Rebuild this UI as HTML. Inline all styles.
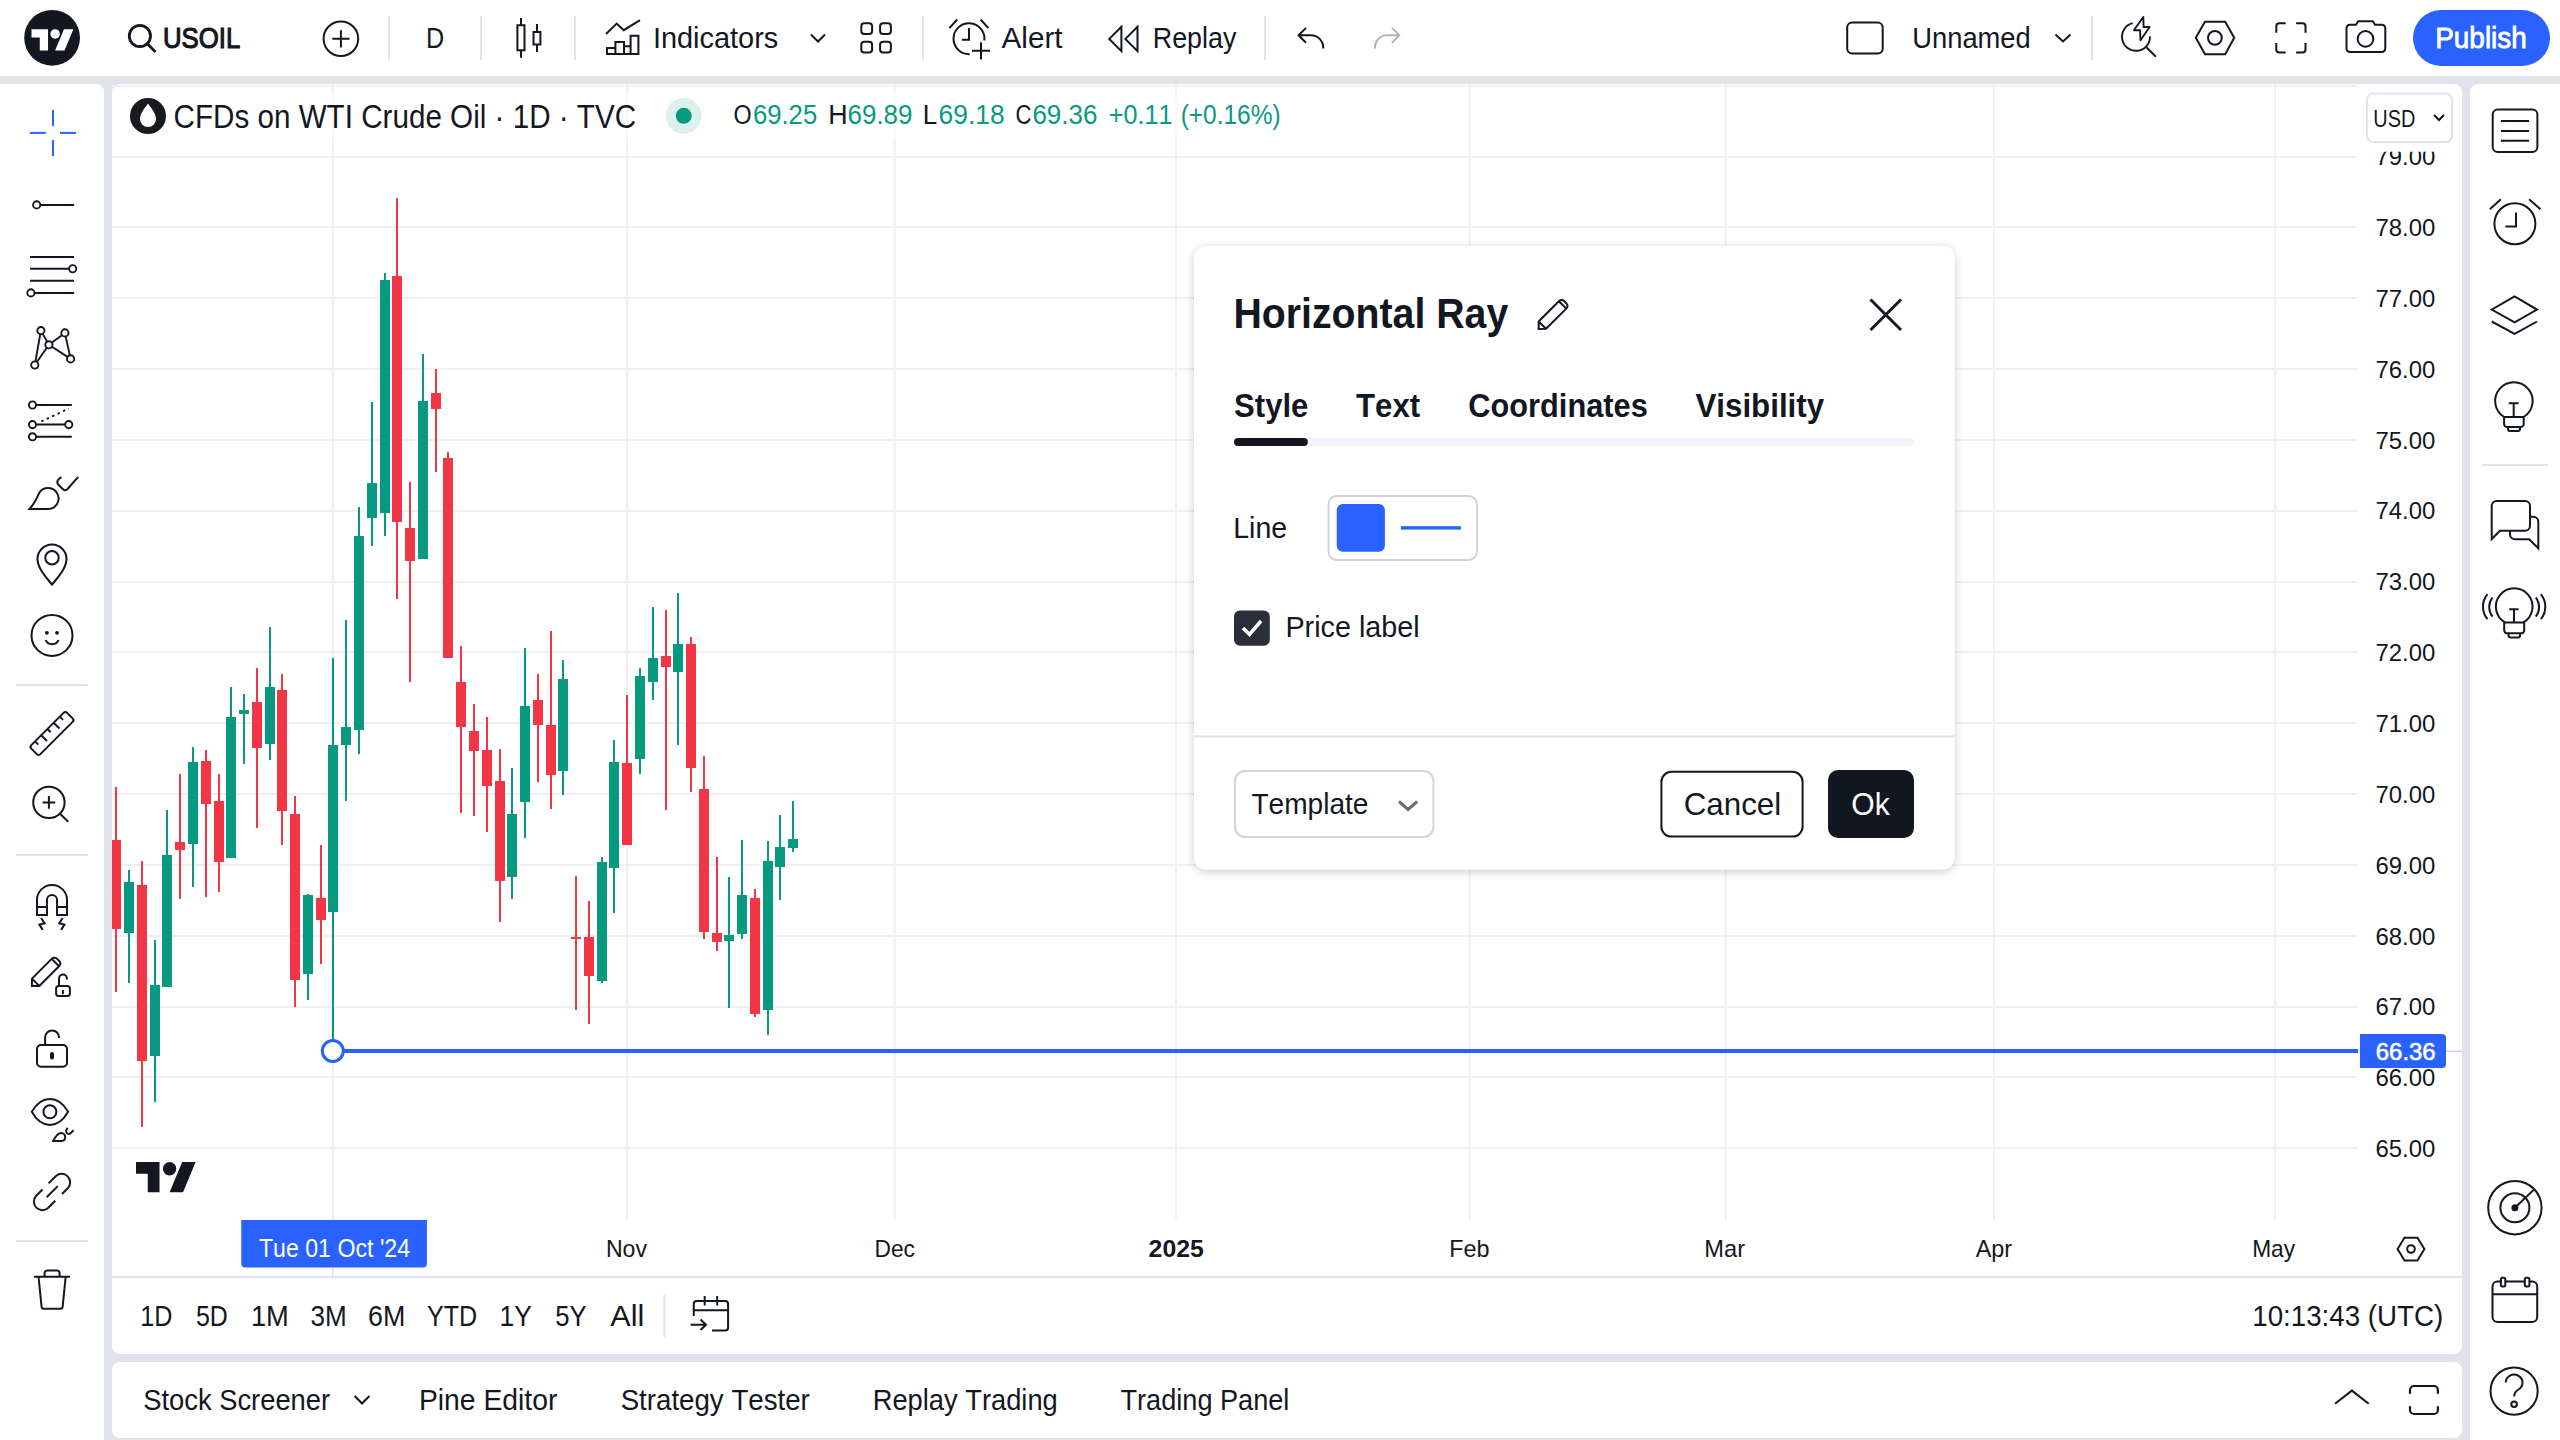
<!DOCTYPE html>
<html><head><meta charset="utf-8"><title>USOIL chart</title>
<style>
html,body{margin:0;padding:0;width:2560px;height:1440px;overflow:hidden;background:#E0E3EB;}
svg{display:block;font-family:"Liberation Sans",sans-serif;font-kerning:none;}
</style></head><body>
<svg width="2560" height="1440" viewBox="0 0 2560 1440">
<defs>
<clipPath id="chartclip"><rect x="112" y="84" width="2246" height="1136"/></clipPath>
<filter id="dshadow" x="-10%" y="-10%" width="120%" height="120%"><feDropShadow dx="0" dy="2" stdDeviation="5" flood-color="#000" flood-opacity="0.2"/></filter>
</defs>
<rect x="0" y="0" width="2560" height="1440" fill="#E0E3EB"/>
<rect x="0" y="0" width="2560" height="76" fill="#fff"/>
<path d="M0 84 H96 A8 8 0 0 1 104 92 V1440 H0 Z" fill="#fff"/>
<path d="M2478 84 H2560 V1440 H2470 V92 A8 8 0 0 1 2478 84 Z" fill="#fff"/>
<rect x="112.00" y="84.00" width="2350.00" height="1270.00" rx="8" fill="#fff"/>
<rect x="112.00" y="1362.00" width="2350.00" height="76.00" rx="8" fill="#fff"/>
<g clip-path="url(#chartclip)">
<rect x="332.00" y="84.00" width="2.00" height="1136.00" fill="#EFF1F1"/>
<rect x="626.00" y="84.00" width="2.00" height="1136.00" fill="#EFF1F1"/>
<rect x="893.70" y="84.00" width="2.00" height="1136.00" fill="#EFF1F1"/>
<rect x="1175.00" y="84.00" width="2.00" height="1136.00" fill="#EFF1F1"/>
<rect x="1468.80" y="84.00" width="2.00" height="1136.00" fill="#EFF1F1"/>
<rect x="1724.80" y="84.00" width="2.00" height="1136.00" fill="#EFF1F1"/>
<rect x="1993.00" y="84.00" width="2.00" height="1136.00" fill="#EFF1F1"/>
<rect x="2274.20" y="84.00" width="2.00" height="1136.00" fill="#EFF1F1"/>
<rect x="112.00" y="1147.00" width="2246.00" height="2.00" fill="#EFF1F1"/>
<rect x="112.00" y="1076.00" width="2246.00" height="2.00" fill="#EFF1F1"/>
<rect x="112.00" y="1006.00" width="2246.00" height="2.00" fill="#EFF1F1"/>
<rect x="112.00" y="935.00" width="2246.00" height="2.00" fill="#EFF1F1"/>
<rect x="112.00" y="864.00" width="2246.00" height="2.00" fill="#EFF1F1"/>
<rect x="112.00" y="793.00" width="2246.00" height="2.00" fill="#EFF1F1"/>
<rect x="112.00" y="722.00" width="2246.00" height="2.00" fill="#EFF1F1"/>
<rect x="112.00" y="651.00" width="2246.00" height="2.00" fill="#EFF1F1"/>
<rect x="112.00" y="581.00" width="2246.00" height="2.00" fill="#EFF1F1"/>
<rect x="112.00" y="510.00" width="2246.00" height="2.00" fill="#EFF1F1"/>
<rect x="112.00" y="439.00" width="2246.00" height="2.00" fill="#EFF1F1"/>
<rect x="112.00" y="368.00" width="2246.00" height="2.00" fill="#EFF1F1"/>
<rect x="112.00" y="297.00" width="2246.00" height="2.00" fill="#EFF1F1"/>
<rect x="112.00" y="226.00" width="2246.00" height="2.00" fill="#EFF1F1"/>
<rect x="112.00" y="156.00" width="2246.00" height="2.00" fill="#EFF1F1"/>
<rect x="112.00" y="85.00" width="2246.00" height="2.00" fill="#EFF1F1"/>
<rect x="115.00" y="787.00" width="2.00" height="205.00" fill="#F23645"/>
<rect x="111.00" y="840.00" width="10.00" height="89.00" fill="#F23645"/>
<rect x="128.00" y="870.00" width="2.00" height="113.00" fill="#089981"/>
<rect x="124.00" y="882.00" width="10.00" height="51.00" fill="#089981"/>
<rect x="141.00" y="861.00" width="2.00" height="266.00" fill="#F23645"/>
<rect x="137.00" y="885.00" width="10.00" height="176.00" fill="#F23645"/>
<rect x="154.00" y="940.00" width="2.00" height="162.00" fill="#089981"/>
<rect x="150.00" y="985.00" width="10.00" height="71.00" fill="#089981"/>
<rect x="166.00" y="810.00" width="2.00" height="177.00" fill="#089981"/>
<rect x="162.00" y="855.00" width="10.00" height="132.00" fill="#089981"/>
<rect x="179.00" y="774.00" width="2.00" height="125.00" fill="#F23645"/>
<rect x="175.00" y="842.00" width="10.00" height="8.00" fill="#F23645"/>
<rect x="192.00" y="747.00" width="2.00" height="140.00" fill="#089981"/>
<rect x="188.00" y="762.00" width="10.00" height="82.00" fill="#089981"/>
<rect x="205.00" y="750.00" width="2.00" height="147.00" fill="#F23645"/>
<rect x="201.00" y="761.00" width="10.00" height="43.00" fill="#F23645"/>
<rect x="218.00" y="774.00" width="2.00" height="118.00" fill="#F23645"/>
<rect x="214.00" y="801.00" width="10.00" height="61.00" fill="#F23645"/>
<rect x="230.00" y="687.00" width="2.00" height="171.00" fill="#089981"/>
<rect x="226.00" y="717.00" width="10.00" height="141.00" fill="#089981"/>
<rect x="243.00" y="694.00" width="2.00" height="70.00" fill="#089981"/>
<rect x="239.00" y="710.00" width="10.00" height="4.00" fill="#089981"/>
<rect x="256.00" y="668.00" width="2.00" height="160.00" fill="#F23645"/>
<rect x="252.00" y="702.00" width="10.00" height="46.00" fill="#F23645"/>
<rect x="269.00" y="627.00" width="2.00" height="133.00" fill="#089981"/>
<rect x="265.00" y="687.00" width="10.00" height="57.00" fill="#089981"/>
<rect x="281.00" y="674.00" width="2.00" height="171.00" fill="#F23645"/>
<rect x="277.00" y="690.00" width="10.00" height="121.00" fill="#F23645"/>
<rect x="294.00" y="796.00" width="2.00" height="211.00" fill="#F23645"/>
<rect x="290.00" y="814.00" width="10.00" height="166.00" fill="#F23645"/>
<rect x="307.00" y="894.00" width="2.00" height="106.00" fill="#089981"/>
<rect x="303.00" y="895.00" width="10.00" height="79.00" fill="#089981"/>
<rect x="320.00" y="845.00" width="2.00" height="119.00" fill="#F23645"/>
<rect x="316.00" y="898.00" width="10.00" height="22.00" fill="#F23645"/>
<rect x="332.00" y="658.00" width="2.00" height="393.00" fill="#089981"/>
<rect x="328.00" y="745.00" width="10.00" height="167.00" fill="#089981"/>
<rect x="345.00" y="620.00" width="2.00" height="181.00" fill="#089981"/>
<rect x="341.00" y="727.00" width="10.00" height="18.00" fill="#089981"/>
<rect x="358.00" y="507.00" width="2.00" height="247.00" fill="#089981"/>
<rect x="354.00" y="536.00" width="10.00" height="194.00" fill="#089981"/>
<rect x="371.00" y="402.00" width="2.00" height="144.00" fill="#089981"/>
<rect x="367.00" y="483.00" width="10.00" height="35.00" fill="#089981"/>
<rect x="384.00" y="273.00" width="2.00" height="263.00" fill="#089981"/>
<rect x="380.00" y="280.00" width="10.00" height="233.00" fill="#089981"/>
<rect x="396.00" y="198.00" width="2.00" height="401.00" fill="#F23645"/>
<rect x="392.00" y="276.00" width="10.00" height="246.00" fill="#F23645"/>
<rect x="409.00" y="482.00" width="2.00" height="200.00" fill="#F23645"/>
<rect x="405.00" y="528.00" width="10.00" height="33.00" fill="#F23645"/>
<rect x="422.00" y="354.00" width="2.00" height="205.00" fill="#089981"/>
<rect x="418.00" y="401.00" width="10.00" height="158.00" fill="#089981"/>
<rect x="435.00" y="369.00" width="2.00" height="103.00" fill="#F23645"/>
<rect x="431.00" y="393.00" width="10.00" height="16.00" fill="#F23645"/>
<rect x="447.00" y="452.00" width="2.00" height="206.00" fill="#F23645"/>
<rect x="443.00" y="458.00" width="10.00" height="200.00" fill="#F23645"/>
<rect x="460.00" y="646.00" width="2.00" height="167.00" fill="#F23645"/>
<rect x="456.00" y="682.00" width="10.00" height="45.00" fill="#F23645"/>
<rect x="473.00" y="704.00" width="2.00" height="112.00" fill="#F23645"/>
<rect x="469.00" y="731.00" width="10.00" height="20.00" fill="#F23645"/>
<rect x="486.00" y="717.00" width="2.00" height="115.00" fill="#F23645"/>
<rect x="482.00" y="750.00" width="10.00" height="36.00" fill="#F23645"/>
<rect x="499.00" y="749.00" width="2.00" height="173.00" fill="#F23645"/>
<rect x="495.00" y="781.00" width="10.00" height="100.00" fill="#F23645"/>
<rect x="511.00" y="768.00" width="2.00" height="131.00" fill="#089981"/>
<rect x="507.00" y="814.00" width="10.00" height="63.00" fill="#089981"/>
<rect x="524.00" y="648.00" width="2.00" height="190.00" fill="#089981"/>
<rect x="520.00" y="706.00" width="10.00" height="96.00" fill="#089981"/>
<rect x="537.00" y="674.00" width="2.00" height="108.00" fill="#F23645"/>
<rect x="533.00" y="700.00" width="10.00" height="25.00" fill="#F23645"/>
<rect x="550.00" y="631.00" width="2.00" height="178.00" fill="#F23645"/>
<rect x="546.00" y="725.00" width="10.00" height="50.00" fill="#F23645"/>
<rect x="562.00" y="660.00" width="2.00" height="135.00" fill="#089981"/>
<rect x="558.00" y="679.00" width="10.00" height="92.00" fill="#089981"/>
<rect x="575.00" y="876.00" width="2.00" height="134.00" fill="#F23645"/>
<rect x="571.00" y="937.00" width="10.00" height="2.00" fill="#F23645"/>
<rect x="588.00" y="901.00" width="2.00" height="123.00" fill="#F23645"/>
<rect x="584.00" y="937.00" width="10.00" height="39.00" fill="#F23645"/>
<rect x="601.00" y="857.00" width="2.00" height="126.00" fill="#089981"/>
<rect x="597.00" y="862.00" width="10.00" height="119.00" fill="#089981"/>
<rect x="613.00" y="740.00" width="2.00" height="173.00" fill="#089981"/>
<rect x="609.00" y="762.00" width="10.00" height="106.00" fill="#089981"/>
<rect x="626.00" y="695.00" width="2.00" height="150.00" fill="#F23645"/>
<rect x="622.00" y="763.00" width="10.00" height="82.00" fill="#F23645"/>
<rect x="639.00" y="668.00" width="2.00" height="106.00" fill="#089981"/>
<rect x="635.00" y="676.00" width="10.00" height="83.00" fill="#089981"/>
<rect x="652.00" y="607.00" width="2.00" height="93.00" fill="#089981"/>
<rect x="648.00" y="658.00" width="10.00" height="24.00" fill="#089981"/>
<rect x="665.00" y="610.00" width="2.00" height="200.00" fill="#F23645"/>
<rect x="661.00" y="656.00" width="10.00" height="11.00" fill="#F23645"/>
<rect x="677.00" y="593.00" width="2.00" height="152.00" fill="#089981"/>
<rect x="673.00" y="644.00" width="10.00" height="28.00" fill="#089981"/>
<rect x="690.00" y="637.00" width="2.00" height="155.00" fill="#F23645"/>
<rect x="686.00" y="644.00" width="10.00" height="124.00" fill="#F23645"/>
<rect x="703.00" y="756.00" width="2.00" height="183.00" fill="#F23645"/>
<rect x="699.00" y="789.00" width="10.00" height="143.00" fill="#F23645"/>
<rect x="716.00" y="857.00" width="2.00" height="94.00" fill="#F23645"/>
<rect x="712.00" y="933.00" width="10.00" height="9.00" fill="#F23645"/>
<rect x="728.00" y="877.00" width="2.00" height="131.00" fill="#089981"/>
<rect x="724.00" y="935.00" width="10.00" height="6.00" fill="#089981"/>
<rect x="741.00" y="840.00" width="2.00" height="99.00" fill="#089981"/>
<rect x="737.00" y="895.00" width="10.00" height="39.00" fill="#089981"/>
<rect x="754.00" y="889.00" width="2.00" height="128.00" fill="#F23645"/>
<rect x="750.00" y="898.00" width="10.00" height="116.00" fill="#F23645"/>
<rect x="767.00" y="841.00" width="2.00" height="194.00" fill="#089981"/>
<rect x="763.00" y="861.00" width="10.00" height="149.00" fill="#089981"/>
<rect x="779.00" y="815.00" width="2.00" height="85.00" fill="#089981"/>
<rect x="775.00" y="847.00" width="10.00" height="20.00" fill="#089981"/>
<rect x="792.00" y="801.00" width="2.00" height="51.00" fill="#089981"/>
<rect x="788.00" y="839.00" width="10.00" height="9.00" fill="#089981"/>
<rect x="332.80" y="1049.00" width="2025.20" height="4.00" fill="#2962FF"/>
<circle cx="332.80" cy="1051.00" r="10.50" fill="#fff" stroke="#2962FF" stroke-width="3"/>
</g>
<rect x="2446.00" y="1050.70" width="16.00" height="1.00" fill="#A8BFFF"/>
<text x="2375.49" y="1157.02" font-size="24" fill="#131722" textLength="59.85" lengthAdjust="spacingAndGlyphs">65.00</text>
<text x="2375.49" y="1086.18" font-size="24" fill="#131722" textLength="59.85" lengthAdjust="spacingAndGlyphs">66.00</text>
<text x="2375.49" y="1015.34" font-size="24" fill="#131722" textLength="59.85" lengthAdjust="spacingAndGlyphs">67.00</text>
<text x="2375.49" y="944.50" font-size="24" fill="#131722" textLength="59.85" lengthAdjust="spacingAndGlyphs">68.00</text>
<text x="2375.49" y="873.66" font-size="24" fill="#131722" textLength="59.85" lengthAdjust="spacingAndGlyphs">69.00</text>
<text x="2375.49" y="802.82" font-size="24" fill="#131722" textLength="59.85" lengthAdjust="spacingAndGlyphs">70.00</text>
<text x="2375.49" y="731.98" font-size="24" fill="#131722" textLength="59.85" lengthAdjust="spacingAndGlyphs">71.00</text>
<text x="2375.49" y="661.14" font-size="24" fill="#131722" textLength="59.85" lengthAdjust="spacingAndGlyphs">72.00</text>
<text x="2375.49" y="590.30" font-size="24" fill="#131722" textLength="59.85" lengthAdjust="spacingAndGlyphs">73.00</text>
<text x="2375.49" y="519.46" font-size="24" fill="#131722" textLength="59.85" lengthAdjust="spacingAndGlyphs">74.00</text>
<text x="2375.49" y="448.62" font-size="24" fill="#131722" textLength="59.85" lengthAdjust="spacingAndGlyphs">75.00</text>
<text x="2375.49" y="377.78" font-size="24" fill="#131722" textLength="59.85" lengthAdjust="spacingAndGlyphs">76.00</text>
<text x="2375.49" y="306.94" font-size="24" fill="#131722" textLength="59.85" lengthAdjust="spacingAndGlyphs">77.00</text>
<text x="2375.49" y="236.10" font-size="24" fill="#131722" textLength="59.85" lengthAdjust="spacingAndGlyphs">78.00</text>
<text x="2375.49" y="165.26" font-size="24" fill="#131722" textLength="59.85" lengthAdjust="spacingAndGlyphs">79.00</text>
<path d="M2360 1034 H2442 A4 4 0 0 1 2446 1038 V1064 A4 4 0 0 1 2442 1068 H2360 Z" fill="#2962FF"/>
<g stroke="#fff" stroke-width="0.6">
<text x="2375.80" y="1059.60" font-size="24" fill="#fff" textLength="59.85" lengthAdjust="spacingAndGlyphs">66.36</text>
</g>
<rect x="2362.00" y="84.00" width="90.00" height="67.70" fill="#fff"/>
<rect x="2367.00" y="93.60" width="85.00" height="48.40" rx="6" fill="#fff" stroke="#E0E3EB" stroke-width="2"/>
<text x="2373.27" y="127.00" font-size="24" fill="#131722" textLength="41.99" lengthAdjust="spacingAndGlyphs">USD</text>
<path d="M2434 115 L2439 120 L2444 115" fill="none" stroke="#131722" stroke-width="2"/>
<rect x="122.00" y="91.80" width="1168.00" height="47.70" fill="rgba(255,255,255,0.5)"/>
<circle cx="148.00" cy="116.00" r="18.00" fill="#181A1E" stroke="none" stroke-width="0"/>
<path d="M148 103.5 C151 108 156 113 156 119 A8 8 0 0 1 140 119 C140 113 145 108 148 103.5 Z" fill="#fff"/>
<text x="173.50" y="127.90" font-size="33" fill="#131722" textLength="462.63" lengthAdjust="spacingAndGlyphs">CFDs on WTI Crude Oil · 1D · TVC</text>
<circle cx="683.75" cy="115.85" r="17.90" fill="rgba(8,153,129,0.14)" stroke="none" stroke-width="0"/>
<circle cx="683.75" cy="115.85" r="8.00" fill="#089981" stroke="none" stroke-width="0"/>
<text x="733.50" y="124.40" font-size="27" fill="#131722" textLength="18.12" lengthAdjust="spacingAndGlyphs">O</text>
<text x="752.90" y="124.40" font-size="27" fill="#089981" textLength="64.28" lengthAdjust="spacingAndGlyphs">69.25</text>
<text x="828.30" y="124.40" font-size="27" fill="#131722" textLength="19.39" lengthAdjust="spacingAndGlyphs">H</text>
<text x="847.48" y="124.40" font-size="27" fill="#089981" textLength="65.05" lengthAdjust="spacingAndGlyphs">69.89</text>
<text x="922.86" y="124.40" font-size="27" fill="#131722" textLength="14.51" lengthAdjust="spacingAndGlyphs">L</text>
<text x="938.56" y="124.40" font-size="27" fill="#089981" textLength="66.09" lengthAdjust="spacingAndGlyphs">69.18</text>
<text x="1015.38" y="124.40" font-size="27" fill="#131722" textLength="15.96" lengthAdjust="spacingAndGlyphs">C</text>
<text x="1032.38" y="124.40" font-size="27" fill="#089981" textLength="65.06" lengthAdjust="spacingAndGlyphs">69.36</text>
<text x="1108.77" y="124.40" font-size="27" fill="#089981" textLength="63.66" lengthAdjust="spacingAndGlyphs">+0.11</text>
<text x="1180.68" y="124.40" font-size="27" fill="#089981" textLength="99.93" lengthAdjust="spacingAndGlyphs">(+0.16%)</text>
<rect x="112.00" y="1276.00" width="2350.00" height="2.00" fill="#E0E3EB"/>
<text x="605.91" y="1257.20" font-size="24" fill="#131722" textLength="41.07" lengthAdjust="spacingAndGlyphs">Nov</text>
<text x="874.53" y="1257.20" font-size="24" fill="#131722" textLength="40.47" lengthAdjust="spacingAndGlyphs">Dec</text>
<text x="1148.64" y="1257.20" font-size="24" font-weight="700" fill="#131722" textLength="55.15" lengthAdjust="spacingAndGlyphs">2025</text>
<text x="1449.28" y="1257.20" font-size="24" fill="#131722" textLength="40.30" lengthAdjust="spacingAndGlyphs">Feb</text>
<text x="1704.36" y="1257.20" font-size="24" fill="#131722" textLength="40.73" lengthAdjust="spacingAndGlyphs">Mar</text>
<text x="1975.65" y="1257.20" font-size="24" fill="#131722" textLength="36.33" lengthAdjust="spacingAndGlyphs">Apr</text>
<text x="2252.14" y="1257.20" font-size="24" fill="#131722" textLength="42.91" lengthAdjust="spacingAndGlyphs">May</text>
<path d="M241.25 1220 H426.9 V1263.5 A4 4 0 0 1 422.9 1267.5 H245.25 A4 4 0 0 1 241.25 1263.5 Z" fill="#2962FF"/>
<rect x="332.30" y="1267.50" width="1.00" height="9.50" fill="#C9CDD6"/>
<text x="258.88" y="1257.20" font-size="26" fill="#fff" textLength="151.20" lengthAdjust="spacingAndGlyphs">Tue 01 Oct &#x27;24</text>
<text x="140.28" y="1325.90" font-size="29.5" fill="#131722" textLength="32.17" lengthAdjust="spacingAndGlyphs">1D</text>
<text x="195.90" y="1325.90" font-size="29.5" fill="#131722" textLength="31.89" lengthAdjust="spacingAndGlyphs">5D</text>
<text x="250.92" y="1325.90" font-size="29.5" fill="#131722" textLength="37.92" lengthAdjust="spacingAndGlyphs">1M</text>
<text x="310.61" y="1325.90" font-size="29.5" fill="#131722" textLength="36.23" lengthAdjust="spacingAndGlyphs">3M</text>
<text x="368.04" y="1325.90" font-size="29.5" fill="#131722" textLength="37.26" lengthAdjust="spacingAndGlyphs">6M</text>
<text x="426.95" y="1325.90" font-size="29.5" fill="#131722" textLength="50.15" lengthAdjust="spacingAndGlyphs">YTD</text>
<text x="499.59" y="1325.90" font-size="29.5" fill="#131722" textLength="32.24" lengthAdjust="spacingAndGlyphs">1Y</text>
<text x="555.22" y="1325.90" font-size="29.5" fill="#131722" textLength="31.34" lengthAdjust="spacingAndGlyphs">5Y</text>
<text x="610.24" y="1325.90" font-size="29.5" fill="#131722" textLength="34.01" lengthAdjust="spacingAndGlyphs">All</text>
<rect x="663.40" y="1294.70" width="2.00" height="42.20" fill="#E0E3EB"/>
<text x="2252.29" y="1326.30" font-size="29" fill="#131722" textLength="190.83" lengthAdjust="spacingAndGlyphs">10:13:43 (UTC)</text>
<text x="143.16" y="1409.80" font-size="29" fill="#131722" textLength="187.00" lengthAdjust="spacingAndGlyphs">Stock Screener</text>
<text x="418.93" y="1409.80" font-size="29" fill="#131722" textLength="138.44" lengthAdjust="spacingAndGlyphs">Pine Editor</text>
<text x="620.64" y="1409.80" font-size="29" fill="#131722" textLength="189.22" lengthAdjust="spacingAndGlyphs">Strategy Tester</text>
<text x="872.76" y="1409.80" font-size="29" fill="#131722" textLength="185.00" lengthAdjust="spacingAndGlyphs">Replay Trading</text>
<text x="1120.49" y="1409.80" font-size="29" fill="#131722" textLength="168.92" lengthAdjust="spacingAndGlyphs">Trading Panel</text>
<text x="163.01" y="47.60" font-size="29" fill="#131722" stroke="#131722" stroke-width="1.1" textLength="77.34" lengthAdjust="spacingAndGlyphs">USOIL</text>
<text x="426.04" y="47.70" font-size="29" fill="#131722" textLength="18.17" lengthAdjust="spacingAndGlyphs">D</text>
<text x="652.93" y="47.70" font-size="29" fill="#131722" textLength="125.31" lengthAdjust="spacingAndGlyphs">Indicators</text>
<text x="1001.54" y="47.70" font-size="29" fill="#131722" textLength="60.98" lengthAdjust="spacingAndGlyphs">Alert</text>
<text x="1152.80" y="47.70" font-size="29" fill="#131722" textLength="83.55" lengthAdjust="spacingAndGlyphs">Replay</text>
<text x="1912.29" y="47.80" font-size="29" fill="#131722" textLength="118.47" lengthAdjust="spacingAndGlyphs">Unnamed</text>
<rect x="2413.00" y="10.00" width="137.00" height="56.00" rx="28" fill="#2962FF"/>
<text x="2435.21" y="48.20" font-size="29" fill="#fff" stroke="#fff" stroke-width="0.8" textLength="91.60" lengthAdjust="spacingAndGlyphs">Publish</text>
<g filter="url(#dshadow)">
<rect x="1194.00" y="246.00" width="760.50" height="623.50" rx="12" fill="#fff"/>
</g>
<text x="1233.47" y="328.30" font-size="42" font-weight="700" fill="#131722" textLength="274.74" lengthAdjust="spacingAndGlyphs">Horizontal Ray</text>
<text x="1234.11" y="417.30" font-size="34" font-weight="700" fill="#131722" textLength="74.15" lengthAdjust="spacingAndGlyphs">Style</text>
<text x="1356.05" y="417.30" font-size="34" font-weight="700" fill="#131722" textLength="64.03" lengthAdjust="spacingAndGlyphs">Text</text>
<text x="1468.34" y="417.30" font-size="34" font-weight="700" fill="#131722" textLength="179.42" lengthAdjust="spacingAndGlyphs">Coordinates</text>
<text x="1695.39" y="417.30" font-size="34" font-weight="700" fill="#131722" textLength="128.78" lengthAdjust="spacingAndGlyphs">Visibility</text>
<rect x="1234.00" y="438.00" width="680.20" height="8.00" rx="4" fill="#F0F3FA"/>
<rect x="1234.00" y="438.00" width="73.80" height="8.00" rx="4" fill="#131722"/>
<text x="1233.26" y="538.30" font-size="29" fill="#131722" textLength="53.91" lengthAdjust="spacingAndGlyphs">Line</text>
<rect x="1328.60" y="495.90" width="148.30" height="64.00" rx="8" fill="#fff" stroke="#D1D4DC" stroke-width="2"/>
<rect x="1336.75" y="504.00" width="48.15" height="47.70" rx="6" fill="#2962FF"/>
<rect x="1400.90" y="526.20" width="60.10" height="3.40" fill="#2962FF"/>
<rect x="1234.00" y="610.40" width="35.80" height="35.30" rx="6" fill="#2A2E39"/>
<path d="M1243 628 L1249.5 634.5 L1261 621" fill="none" stroke="#fff" stroke-width="3.5"/>
<text x="1285.44" y="636.90" font-size="29.5" fill="#131722" textLength="134.28" lengthAdjust="spacingAndGlyphs">Price label</text>
<rect x="1194.00" y="735.40" width="760.50" height="2.00" fill="#E0E3EB"/>
<rect x="1235.00" y="771.00" width="198.40" height="66.00" rx="10" fill="#fff" stroke="#D1D4DC" stroke-width="2"/>
<text x="1251.47" y="813.70" font-size="29" fill="#131722" textLength="116.98" lengthAdjust="spacingAndGlyphs">Template</text>
<path d="M1399 801.5 L1408.1 809.5 L1417.2 801.5" fill="none" stroke="#6A6D78" stroke-width="3"/>
<rect x="1661.40" y="771.80" width="141.20" height="64.80" rx="10" fill="#fff" stroke="#131722" stroke-width="2"/>
<text x="1683.71" y="815.00" font-size="32" fill="#131722" textLength="97.49" lengthAdjust="spacingAndGlyphs">Cancel</text>
<rect x="1828.00" y="770.00" width="86.00" height="68.00" rx="10" fill="#131722"/>
<text x="1851.28" y="815.00" font-size="32" fill="#fff" textLength="38.38" lengthAdjust="spacingAndGlyphs">Ok</text>
<path d="M1870.5 299.5 L1901 330 M1901 299.5 L1870.5 330" fill="none" stroke="#131722" stroke-width="3"/>
<circle cx="52.10" cy="37.80" r="27.90" fill="#131722" stroke="none" stroke-width="0"/>
<g transform="translate(31.5 24.5) scale(1.18)" fill="#fff"><path d="M14 22H7V11H0V4h14v18zM28 22h-8l7.5-18h8L28 22z"/><circle cx="20" cy="8" r="4"/></g>
<circle cx="139.90" cy="35.90" r="10.60" fill="none" stroke="#131722" stroke-width="2.8"/>
<path d="M147.6 44 L155.5 51.9" fill="none" stroke="#131722" stroke-width="2.8"/>
<circle cx="340.90" cy="38.75" r="17.30" fill="none" stroke="#131722" stroke-width="2"/>
<path d="M332.3 38.75 H349.5 M340.9 30.2 V47.5" fill="none" stroke="#131722" stroke-width="2"/>
<rect x="388.00" y="16.00" width="2.00" height="44.00" fill="#E0E3EB"/>
<rect x="480.00" y="16.00" width="2.00" height="44.00" fill="#E0E3EB"/>
<rect x="574.00" y="16.00" width="2.00" height="44.00" fill="#E0E3EB"/>
<rect x="922.00" y="16.00" width="2.00" height="44.00" fill="#E0E3EB"/>
<rect x="1264.00" y="16.00" width="2.00" height="44.00" fill="#E0E3EB"/>
<rect x="2091.00" y="16.00" width="2.00" height="44.00" fill="#E0E3EB"/>
<path d="M517.4 25.2 H524.5 V50.25 H517.4 Z M521 18 V25.2 M521 50.25 V57.8" fill="none" stroke="#131722" stroke-width="2"/>
<path d="M533.5 32 H540.4 V44.6 H533.5 Z M537 23.9 V32 M537 44.6 V51.9" fill="none" stroke="#131722" stroke-width="2"/>
<path d="M606 34 L616.7 23.6 L623.75 30.2 L640 20.2" fill="none" stroke="#131722" stroke-width="2"/>
<path d="M607 54 V47.9 H615.4 V41.9 H624 V46.3 H630.6 V35.7 H638.4 V54 Z M615.4 47.9 V54 M624 46.3 V54 M630.6 46.3 V54" fill="none" stroke="#131722" stroke-width="2"/>
<path d="M811 34.5 L818 41.5 L825 34.5" fill="none" stroke="#131722" stroke-width="2"/>
<rect x="861.30" y="23.30" width="10.80" height="10.80" rx="3" fill="none" stroke="#131722" stroke-width="2"/>
<rect x="880.10" y="23.30" width="10.80" height="10.80" rx="3" fill="none" stroke="#131722" stroke-width="2"/>
<rect x="861.30" y="41.80" width="10.80" height="10.80" rx="3" fill="none" stroke="#131722" stroke-width="2"/>
<rect x="880.10" y="41.80" width="10.80" height="10.80" rx="3" fill="none" stroke="#131722" stroke-width="2"/>
<path d="M969.7 54.2 A15.5 15.5 0 1 1 984.4 40.5" fill="none" stroke="#131722" stroke-width="2"/>
<path d="M949.4 28.1 L957.2 19.5 M980.6 19.5 L988.4 28.1" fill="none" stroke="#131722" stroke-width="2"/>
<path d="M969 28 V39.8 H961.9" fill="none" stroke="#131722" stroke-width="2"/>
<path d="M972 50.8 H990 M981 42.2 V59.4" fill="none" stroke="#131722" stroke-width="2"/>
<path d="M1121.4 26.8 L1109.3 38.9 L1121.4 51.1 Z M1137.5 26.8 L1125.4 38.9 L1137.5 51.1 Z" fill="none" stroke="#131722" stroke-width="2"/>
<path d="M1306 27.9 L1298.6 35.3 L1306 42.7 M1298.6 35.3 H1311 A12.2 12.3 0 0 1 1323.2 47.6 V48.6" fill="none" stroke="#131722" stroke-width="2"/>
<path d="M1391.9 27.9 L1399.3 35.3 L1391.9 42.7 M1399.3 35.3 H1387 A12.2 12.3 0 0 0 1374.9 47.6 V48.6" fill="none" stroke="#B2B5BE" stroke-width="2"/>
<rect x="1847.20" y="22.40" width="35.50" height="31.00" rx="5" fill="none" stroke="#131722" stroke-width="2"/>
<path d="M2055.5 34.5 L2063 41.5 L2070.5 34.5" fill="none" stroke="#131722" stroke-width="2"/>
<path d="M2132.6 23.2 A14 14 0 1 0 2150 36.4" fill="none" stroke="#131722" stroke-width="1.9"/>
<path d="M2146.4 47.3 L2155.9 56.7" fill="none" stroke="#131722" stroke-width="1.9"/>
<path d="M2143.3 17 L2133.9 30.3 H2140 L2140.5 40.3 L2149.6 27 H2143.6 Z" fill="none" stroke="#131722" stroke-width="1.9" stroke-linejoin="round"/>
<path d="M2195.8 37.85 L2205 21.8 H2225.2 L2234.2 37.85 L2225.2 54.2 H2205 Z" fill="none" stroke="#131722" stroke-width="2"/>
<circle cx="2214.90" cy="37.85" r="6.90" fill="none" stroke="#131722" stroke-width="2"/>
<path d="M2276.3 32.7 V26.3 A3 3 0 0 1 2279.3 23.3 H2285.7 M2296.1 23.3 H2302.5 A3 3 0 0 1 2305.5 26.3 V32.7 M2305.5 43 V49.4 A3 3 0 0 1 2302.5 52.4 H2296.1 M2285.7 52.4 H2279.3 A3 3 0 0 1 2276.3 49.4 V43" fill="none" stroke="#131722" stroke-width="2"/>
<path d="M2346.5 28.2 A3.5 3.5 0 0 1 2350 24.7 H2356 L2358.2 21.3 H2372.8 L2375 24.7 H2381.8 A3.5 3.5 0 0 1 2385.3 28.2 V48.6 A3.5 3.5 0 0 1 2381.8 52.1 H2350 A3.5 3.5 0 0 1 2346.5 48.6 Z" fill="none" stroke="#131722" stroke-width="2"/>
<circle cx="2365.50" cy="38.90" r="7.80" fill="none" stroke="#131722" stroke-width="2"/>
<path d="M148.05 104.4 C150.3 108.2 154.6 113.3 154.6 119.5 A6.55 6.55 0 0 1 141.5 119.5 C141.5 113.3 145.8 108.2 148.05 104.4 Z" fill="#fff"/>
<g transform="translate(136 1155.3) scale(1.68)" fill="#131722"><path d="M14 22H7V11H0V4h14v18zM28 22h-8l7.5-18h8L28 22z"/><circle cx="20" cy="8" r="4"/></g>
<rect x="52.00" y="109.90" width="2.00" height="16.00" fill="#2962FF"/>
<rect x="52.00" y="140.10" width="2.00" height="15.90" fill="#2962FF"/>
<rect x="29.90" y="131.90" width="15.90" height="2.00" fill="#2962FF"/>
<rect x="60.00" y="131.90" width="15.90" height="2.00" fill="#2962FF"/>
<circle cx="36.70" cy="204.90" r="3.60" fill="none" stroke="#131722" stroke-width="1.9"/>
<path d="M40.4 204.9 H74.1" fill="none" stroke="#131722" stroke-width="2"/>
<path d="M30.1 257 H74.1 M30.1 268.75 H69 M30.1 280.8 H74.1 M34.6 292.9 H74.1" fill="none" stroke="#131722" stroke-width="2"/>
<circle cx="72.70" cy="268.75" r="3.60" fill="none" stroke="#131722" stroke-width="1.9"/>
<circle cx="30.90" cy="292.90" r="3.60" fill="none" stroke="#131722" stroke-width="1.9"/>
<path d="M40.9 330.6 L34.8 365" fill="none" stroke="#131722" stroke-width="1.9"/>
<path d="M40.9 330.6 L48.9 344.8" fill="none" stroke="#131722" stroke-width="1.9"/>
<path d="M48.9 344.8 L34.8 365" fill="none" stroke="#131722" stroke-width="1.9"/>
<path d="M48.9 344.8 L64.9 332.9" fill="none" stroke="#131722" stroke-width="1.9"/>
<path d="M64.9 332.9 L70.6 358.9" fill="none" stroke="#131722" stroke-width="1.9"/>
<path d="M48.9 344.8 L70.6 358.9" fill="none" stroke="#131722" stroke-width="1.9"/>
<circle cx="40.90" cy="330.60" r="3.60" fill="#fff" stroke="#131722" stroke-width="1.9"/>
<circle cx="48.90" cy="344.80" r="3.60" fill="#fff" stroke="#131722" stroke-width="1.9"/>
<circle cx="64.90" cy="332.90" r="3.60" fill="#fff" stroke="#131722" stroke-width="1.9"/>
<circle cx="70.60" cy="358.90" r="3.60" fill="#fff" stroke="#131722" stroke-width="1.9"/>
<circle cx="34.80" cy="365.00" r="3.60" fill="#fff" stroke="#131722" stroke-width="1.9"/>
<path d="M36.3 405 H71.8 M36.3 424.6 H65 M36.3 436.8 H71.8" fill="none" stroke="#131722" stroke-width="2"/>
<path d="M41.25 421.5 L68.75 408.5" fill="none" stroke="#131722" stroke-width="1.9" stroke-dasharray="2.5 3.5"/>
<circle cx="32.50" cy="405.00" r="3.60" fill="#fff" stroke="#131722" stroke-width="1.9"/>
<circle cx="32.50" cy="424.60" r="3.60" fill="#fff" stroke="#131722" stroke-width="1.9"/>
<circle cx="68.75" cy="424.60" r="3.60" fill="#fff" stroke="#131722" stroke-width="1.9"/>
<circle cx="32.50" cy="436.80" r="3.60" fill="#fff" stroke="#131722" stroke-width="1.9"/>
<path d="M29.5 509 H48 A10.5 10.5 0 1 0 39.4 492.5 C37.5 497 35 503 29.5 509 Z" fill="none" stroke="#131722" stroke-width="2"/>
<path d="M61.5 477.3 C58.5 478.5 55.8 481.5 58.2 484.5 L63 489.2 C64.3 490.5 66 490.5 67.3 489.2 L78.2 476.8" fill="none" stroke="#131722" stroke-width="2"/>
<path d="M52 584.7 C46 577 37.5 568 37.5 559 A14.5 14.5 0 0 1 66.5 559 C66.5 568 58 577 52 584.7 Z" fill="none" stroke="#131722" stroke-width="2"/>
<circle cx="52.00" cy="557.80" r="6.70" fill="none" stroke="#131722" stroke-width="2"/>
<circle cx="52.00" cy="635.40" r="20.50" fill="none" stroke="#131722" stroke-width="2"/>
<circle cx="46.90" cy="632.80" r="1.90" fill="#131722" stroke="none" stroke-width="0"/>
<circle cx="57.00" cy="632.80" r="1.90" fill="#131722" stroke="none" stroke-width="0"/>
<path d="M45.8 640 A6.5 5.5 0 0 0 58.4 640" fill="none" stroke="#131722" stroke-width="2"/>
<rect x="16.00" y="684.00" width="72.00" height="2.00" fill="#E0E3EB"/>
<rect x="16.00" y="854.00" width="72.00" height="2.00" fill="#E0E3EB"/>
<rect x="16.00" y="1240.00" width="72.00" height="2.00" fill="#E0E3EB"/>
<g transform="translate(51.95 733.5) rotate(-45)" fill="none" stroke="#131722" stroke-width="2"><rect x="-25.3" y="-6.4" width="50.6" height="12.8" rx="2.5"/><path d="M-17.5 -6.4 V-1.8 M-8.8 -6.4 V1.8 M0 -6.4 V-1.8 M8.8 -6.4 V1.8 M17.5 -6.4 V-1.8"/></g>
<circle cx="48.90" cy="802.40" r="15.70" fill="none" stroke="#131722" stroke-width="2"/>
<path d="M42.5 802.4 H55.3 M48.9 796 V808.8 M60.3 814 L68.3 821.9" fill="none" stroke="#131722" stroke-width="2"/>
<path d="M37 914.9 V900 A15 15 0 0 1 67 900 V914.9 H57.05 V900.1 A5.05 5.05 0 0 0 46.95 900.1 V914.9 Z M37 906.9 H46.95 M57.05 906.9 H67" fill="none" stroke="#131722" stroke-width="2"/>
<path d="M41.1 918 L44.6 923.3 L39.4 924.6 L42.7 929.9 M62.7 918 L59.2 923.3 L64.45 924.6 L61.1 929.9" fill="none" stroke="#131722" stroke-width="2"/>
<g transform="translate(31 986.95) rotate(-45)" fill="none" stroke="#131722" stroke-width="2"><path d="M1.3 0 L6.6 -5.2 H34.8 A3.5 3.5 0 0 1 38.3 -1.7 V1.7 A3.5 3.5 0 0 1 34.8 5.2 H6.6 Z M6.6 -5.2 V5.2 M34.5 -5.2 V5.2"/></g>
<rect x="56.10" y="986.00" width="13.80" height="10.10" rx="2.5" fill="none" stroke="#131722" stroke-width="2"/>
<path d="M59 986 V978.5 A3.95 3.95 0 0 1 66.9 978.5 V979.6" fill="none" stroke="#131722" stroke-width="2"/>
<rect x="61.90" y="990.00" width="2.00" height="4.20" fill="#131722"/>
<rect x="37.00" y="1045.00" width="30.00" height="21.70" rx="4" fill="none" stroke="#131722" stroke-width="2"/>
<path d="M45.1 1045 V1037.5 A7 7 0 0 1 59.1 1037.5 V1038" fill="none" stroke="#131722" stroke-width="2"/>
<rect x="50.00" y="1052.00" width="4.00" height="7.60" rx="2" fill="#131722"/>
<path d="M31.8 1111.8 C36.5 1103.5 42.5 1099 49.9 1099 C57.3 1099 63.4 1103.5 68.1 1111.8 C63.4 1120.3 57.3 1124.9 49.9 1124.9 C42.5 1124.9 36.5 1120.3 31.8 1111.8 Z" fill="none" stroke="#131722" stroke-width="2"/>
<circle cx="49.90" cy="1111.80" r="6.50" fill="none" stroke="#131722" stroke-width="2"/>
<path d="M53.2 1140.9 C55.5 1136.5 57.5 1133 61 1133 C63.5 1133 65.2 1135 65.2 1137 C65.2 1139.5 63.5 1140.9 61.5 1140.9 Z M67.8 1127.9 C66 1129.5 65.5 1131.8 67 1133.2 C68 1134.3 69.5 1134.3 70.5 1133.3 L73.6 1130.2" fill="none" stroke="#131722" stroke-width="2"/>
<path d="M48.6 1183.4 L56 1176 A8.5 8.5 0 0 1 68 1188 L62 1194" fill="none" stroke="#131722" stroke-width="2"/>
<path d="M42.5 1189.5 L36 1196 A8.5 8.5 0 0 0 48 1208 L55.3 1200.7" fill="none" stroke="#131722" stroke-width="2"/>
<path d="M46.6 1197.3 L57.75 1186.1" fill="none" stroke="#131722" stroke-width="2"/>
<path d="M33.9 1276.7 H70 M44.6 1276.7 V1273 A2.5 2.5 0 0 1 47 1270.6 H57.2 A2.5 2.5 0 0 1 59.6 1273 V1276.7 M38.5 1276.7 L41.6 1306.8 A2 2 0 0 0 43.6 1308.8 H60.6 A2 2 0 0 0 62.6 1306.8 L65.7 1276.7" fill="none" stroke="#131722" stroke-width="2"/>
<rect x="2492.70" y="109.50" width="44.70" height="42.60" rx="5" fill="none" stroke="#131722" stroke-width="2"/>
<path d="M2500.9 121 H2529.1 M2500.9 131 H2529.1 M2500.9 140.7 H2529.1" fill="none" stroke="#131722" stroke-width="2"/>
<circle cx="2514.90" cy="223.80" r="20.50" fill="none" stroke="#131722" stroke-width="2"/>
<path d="M2489.8 209.3 L2500.9 199.3 M2529.1 199.3 L2540.5 209.3 M2516 212.5 V226.5 H2505.4" fill="none" stroke="#131722" stroke-width="2"/>
<path d="M2491.7 309.6 L2514.6 296.4 L2537 309.6 L2514.6 322.3 Z" fill="none" stroke="#131722" stroke-width="2"/>
<path d="M2491.7 321.5 L2514.6 333.9 L2537 321.5" fill="none" stroke="#131722" stroke-width="2"/>
<path d="M2504.1 417 A18.75 18.75 0 1 1 2523.7 417" fill="none" stroke="#131722" stroke-width="2"/>
<path d="M2504.1 417 H2523.7 V424 A3 3 0 0 1 2520.7 427 H2507.1 A3 3 0 0 1 2504.1 424 Z M2508 427 V429 A2 2 0 0 0 2510 431 H2518 A2 2 0 0 0 2520 429 V427" fill="none" stroke="#131722" stroke-width="2"/>
<path d="M2508.8 403.3 H2518.6 M2513.7 403.3 V417" fill="none" stroke="#131722" stroke-width="2"/>
<rect x="2482.00" y="464.00" width="66.00" height="2.00" fill="#E0E3EB"/>
<path d="M2500 530.8 L2491.7 539 V506 A5 5 0 0 1 2496.7 501 H2525 A5 5 0 0 1 2530 506 V525.8 A5 5 0 0 1 2525 530.8 Z" fill="none" stroke="#131722" stroke-width="2"/>
<path d="M2530 516.7 H2533.3 A5 5 0 0 1 2538.3 521.7 V548.3 L2529.2 539.2 H2515 A5 5 0 0 1 2510 534.2 V531" fill="none" stroke="#131722" stroke-width="2"/>
<path d="M2505.1 622.5 A18.3 18.3 0 1 1 2523.3 622.5" fill="none" stroke="#131722" stroke-width="2"/>
<path d="M2504.2 622.5 H2524.2 V630.3 A3 3 0 0 1 2521.2 633.3 H2507.2 A3 3 0 0 1 2504.2 630.3 Z M2508.5 633.3 V635.5 A2 2 0 0 0 2510.5 637.5 H2518 A2 2 0 0 0 2520 635.5 V633.3" fill="none" stroke="#131722" stroke-width="2"/>
<path d="M2509.2 609.2 H2518.7 M2514 609.2 V622.5" fill="none" stroke="#131722" stroke-width="2"/>
<path d="M2487.5 594.2 A19.6 19.6 0 0 0 2487.5 619.2 M2492.5 597.5 A15.6 15.6 0 0 0 2492.5 616.7 M2540.8 594.2 A19.6 19.6 0 0 1 2540.8 619.2 M2535.8 597.5 A15.6 15.6 0 0 1 2535.8 616.7" fill="none" stroke="#131722" stroke-width="2"/>
<circle cx="2514.90" cy="1207.70" r="26.70" fill="none" stroke="#131722" stroke-width="2"/>
<circle cx="2514.90" cy="1207.70" r="14.50" fill="none" stroke="#131722" stroke-width="2"/>
<circle cx="2514.90" cy="1207.70" r="3.50" fill="#131722" stroke="none" stroke-width="0"/>
<path d="M2514.9 1207.7 L2533.9 1189.6" fill="none" stroke="#131722" stroke-width="2"/>
<rect x="2492.50" y="1281.60" width="44.70" height="40.40" rx="5" fill="none" stroke="#131722" stroke-width="2"/>
<path d="M2492.5 1294.2 H2537.2" fill="none" stroke="#131722" stroke-width="2"/>
<rect x="2500.90" y="1277.70" width="4.40" height="8.70" rx="1.5" fill="#fff" stroke="#131722" stroke-width="2"/>
<rect x="2524.80" y="1277.70" width="4.60" height="8.70" rx="1.5" fill="#fff" stroke="#131722" stroke-width="2"/>
<circle cx="2514.10" cy="1391.10" r="23.60" fill="none" stroke="#131722" stroke-width="2"/>
<path d="M2505.7 1382.5 A8.4 8 0 1 1 2518.5 1389.5 C2515.5 1391.5 2514.1 1393 2514.1 1396.4" fill="none" stroke="#131722" stroke-width="2"/>
<circle cx="2514.10" cy="1404.20" r="2.80" fill="none" stroke="#131722" stroke-width="2"/>
<path d="M693.75 1316 V1304 A3 3 0 0 1 696.75 1301 H725.1 A3 3 0 0 1 728.1 1304 V1327.6 A3 3 0 0 1 725.1 1330.6 H712 M693.75 1310.3 H728.1 M704.7 1296 V1305.6 M717.2 1296 V1305.6" fill="none" stroke="#131722" stroke-width="2"/>
<path d="M690.6 1324.8 H706 M700.5 1319.5 L706 1324.8 L700.5 1330" fill="none" stroke="#131722" stroke-width="2"/>
<path d="M2397.6 1249 L2404.5 1237.8 H2417.5 L2424.4 1249 L2417.5 1260.5 H2404.5 Z" fill="none" stroke="#131722" stroke-width="2"/>
<circle cx="2411.00" cy="1249.00" r="3.80" fill="none" stroke="#131722" stroke-width="2"/>
<path d="M354.7 1396 L362 1403.5 L369.4 1396" fill="none" stroke="#131722" stroke-width="2"/>
<path d="M2335 1403.75 L2351.9 1390.6 L2368.75 1403.75" fill="none" stroke="#131722" stroke-width="2"/>
<path d="M2410 1393.75 V1390 A4 4 0 0 1 2414 1386 H2433.9 A4 4 0 0 1 2437.9 1390 V1393.75 M2437.9 1406.25 V1410 A4 4 0 0 1 2433.9 1414 H2414 A4 4 0 0 1 2410 1410 V1406.25" fill="none" stroke="#131722" stroke-width="2.2"/>
<g transform="translate(1537.7 329.8) rotate(-45)" fill="none" stroke="#131722" stroke-width="2"><path d="M1.3 0 L6.6 -5.2 H35.5 A3.5 3.5 0 0 1 39 -1.7 V1.7 A3.5 3.5 0 0 1 35.5 5.2 H6.6 Z M6.6 -5.2 V5.2 M35.2 -5.2 V5.2"/></g>
</svg>
</body></html>
